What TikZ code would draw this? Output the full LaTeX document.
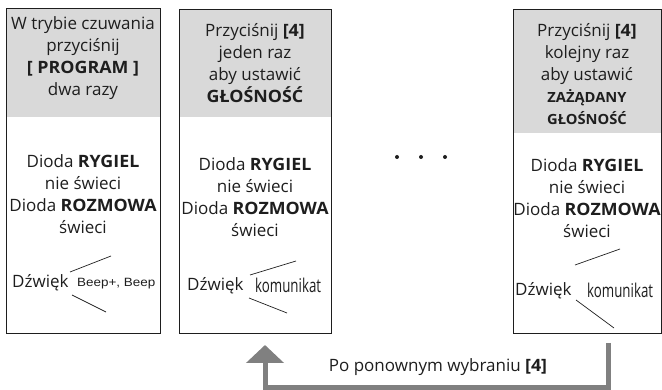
\documentclass[tikz,border=0pt]{standalone}
\usepackage{fontspec}
\setmainfont{Open Sans}[BoldFeatures={FakeStretch=1.05}]
\newfontfamily\beepfont{Liberation Sans}
\usetikzlibrary{arrows.meta}
\definecolor{headgray}{RGB}{217,217,217}
\definecolor{loopgray}{RGB}{128,128,128}
\definecolor{ink}{RGB}{30,30,30}
\newcommand{\narrowword}[1]{\scalebox{0.70}[1]{#1}}
\tikzset{
  frame/.style={draw=ink, line width=1.4pt, fill=none, inner sep=0pt},
  head/.style={fill=headgray, draw=none, inner sep=0pt},
  txt/.style={align=center, text=ink, font=\fontsize{17}{22}\selectfont, inner sep=0pt},
  sound/.style={text=ink, font=\fontsize{17}{22}\selectfont, inner sep=0pt, anchor=base west},
  msg/.style={text=ink, font=\fontsize{19}{22}\selectfont, inner sep=0pt, anchor=base west},
  beep/.style={text=ink, font=\beepfont\fontsize{12}{14}\selectfont, inner sep=0pt, anchor=base west},
  fork/.style={draw=ink, line width=0.7pt},
  dotmark/.style={circle, fill=ink, minimum size=4pt, inner sep=0pt},
  loopline/.style={draw=loopgray, line width=5pt},
}
\begin{document}
\begin{tikzpicture}[x=1pt,y=-1pt]
\useasboundingbox (0,0) rectangle (662,390);

% grey headers
\node[head, minimum width=154pt, minimum height=109pt, anchor=north west] (h1) at (6,8) {};
\node[head, minimum width=152pt, minimum height=108pt, anchor=north west] (h2) at (179,9) {};
\node[head, minimum width=148pt, minimum height=124pt, anchor=north west] (h3) at (513,9) {};

% outer frames
\node[frame, minimum width=154pt, minimum height=325pt, anchor=north west] (b1) at (6,8) {};
\node[frame, minimum width=152pt, minimum height=324pt, anchor=north west] (b2) at (179,9) {};
\node[frame, minimum width=148pt, minimum height=324pt, anchor=north west] (b3) at (513,9) {};

% header texts
\node[txt] (t1) at (83,58) {W trybie czuwania\\przyciśnij\\\textbf{[ PROGRAM ]}\\dwa razy};
\node[txt] (t2) at (255,63) {Przyciśnij \textbf{[4]}\\jeden raz\\aby ustawić\\\textbf{GŁOŚNOŚĆ}};
\node[txt] (t3) at (587,74) {Przyciśnij \textbf{[4]}\\kolejny raz\\aby ustawić\\{\fontsize{14}{22}\selectfont\textbf{ZAŻĄDANY}}\\{\fontsize{14}{22}\selectfont\textbf{GŁOŚNOŚĆ}}};

% status texts
\node[txt] (s1) at (83,194) {Dioda \textbf{RYGIEL}\\nie świeci\\Dioda \textbf{ROZMOWA}\\świeci};
\node[txt] (s2) at (255,197) {Dioda \textbf{RYGIEL}\\nie świeci\\Dioda \textbf{ROZMOWA}\\świeci};
\node[txt] (s3) at (587,198) {Dioda \textbf{RYGIEL}\\nie świeci\\Dioda \textbf{ROZMOWA}\\świeci};

% sound rows
\node[sound] (d1) at (12,288) {Dźwięk};
\node[beep] (k1) at (77,287) {\scalebox{1.12}[1]{Beep+, Beep}};
\draw[fork] (70,272) -- (111,256);
\draw[fork] (72,295) -- (106,312);

\node[sound] (d2) at (187,291) {Dźwięk};
\node[msg] (k2) at (255,293) {\narrowword{komunikat}};
\draw[fork] (250,275) -- (296,261);
\draw[fork] (249,298) -- (287,313);

\node[sound] (d3) at (515,296) {Dźwięk};
\node[msg] (k3) at (587,298) {\narrowword{komunikat}};
\draw[fork] (575,265) -- (620,249);
\draw[fork] (576,300) -- (614,328);

% ellipsis between the boxes
\node[dotmark] (e1) at (397,157) {};
\node[dotmark] (e2) at (421,157) {};
\node[dotmark] (e3) at (445,157) {};

% return loop
\coordinate (r1) at (608,343);
\coordinate (r2) at (265,345);
\draw[loopline, -{Triangle[width=37pt,length=18pt]}] (r1) -- (608,387) -- (265,387) -- (r2);
\node[text=ink, font=\fontsize{17}{20}\selectfont, inner sep=0pt] (lb) at (438,367) {Po ponownym wybraniu \textbf{[4]}};
\end{tikzpicture}
\end{document}
